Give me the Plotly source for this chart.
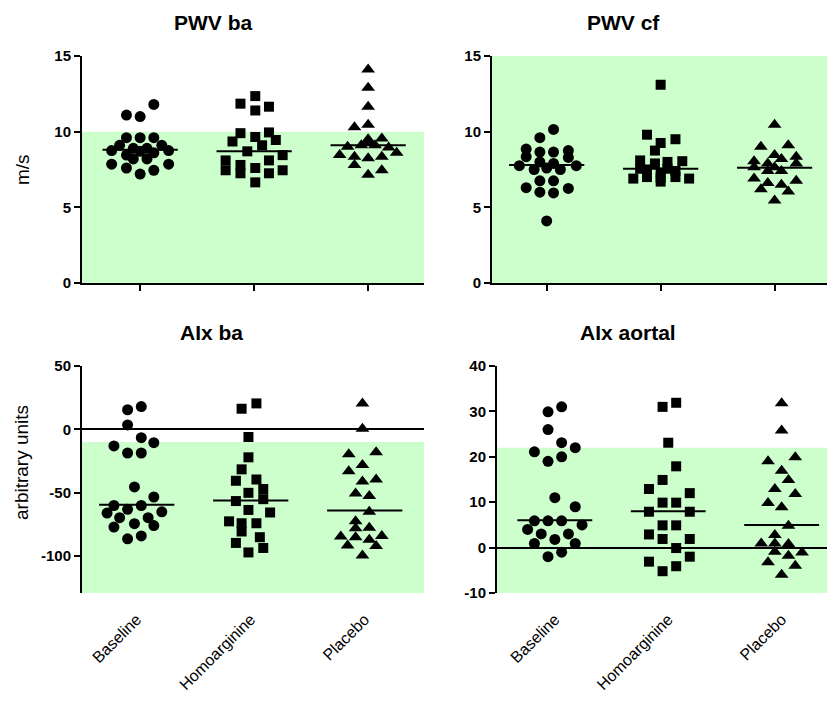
import plotly.graph_objects as go

categories = ["Baseline", "Homoarginine", "Placebo"]

# ---------- PWV ba (m/s) ----------
pwv_ba_baseline = [11.8, 11.1, 11.0, 9.6, 9.6, 9.6, 9.1, 9.1, 8.75, 8.75, 8.9, 8.9, 8.45, 8.6, 8.7, 8.2, 8.2, 7.85, 7.85, 7.6, 7.45, 7.2]
pwv_ba_baseline_dx = [0.12, -0.12, 0.0, -0.12, 0.0, 0.12, -0.18, 0.19, -0.25, 0.25, -0.06, 0.06, -0.12, 0.12, 0.0, -0.06, 0.06, -0.25, 0.25, -0.12, 0.12, 0.0]
pwv_ba_homo = [12.35, 11.85, 11.65, 11.4, 9.9, 9.95, 9.65, 9.35, 9.45, 9.1, 8.7, 8.45, 8.1, 8.1, 7.45, 7.8, 7.25, 7.6, 7.25, 7.45, 6.65]
pwv_ba_homo_dx = [0.01, -0.12, 0.13, 0.01, -0.12, 0.13, 0.01, -0.19, 0.19, 0.07, -0.06, 0.25, 0.13, -0.25, -0.25, -0.12, -0.12, 0.01, 0.13, 0.25, 0.01]
pwv_ba_placebo = [14.1, 12.9, 11.65, 10.45, 10.3, 9.5, 9.55, 9.1, 9.1, 9.0, 8.95, 8.45, 8.6, 8.35, 8.35, 8.25, 7.8, 7.45, 7.15, 9.3]
pwv_ba_placebo_dx = [0.0, 0.0, 0.0, 0.0, -0.12, 0.0, 0.12, -0.06, 0.06, -0.18, 0.18, -0.25, 0.25, -0.12, 0.12, 0.0, -0.12, 0.12, 0.0, 0.0]
pwv_ba_medians = [8.8, 8.7, 9.1]
pwv_ba_normal = [0, 10]

# ---------- PWV cf (m/s) ----------
pwv_cf_baseline = [10.15, 9.6, 8.85, 8.65, 8.65, 8.75, 8.35, 8.3, 7.75, 7.75, 8.0, 7.9, 7.5, 7.5, 7.6, 6.75, 6.75, 6.3, 6.25, 6.0, 5.95, 4.1]
pwv_cf_baseline_dx = [0.06, -0.06, -0.18, -0.06, 0.06, 0.19, -0.18, 0.19, -0.24, 0.26, -0.06, 0.06, -0.11, 0.12, 0.0, -0.06, 0.06, -0.18, 0.19, -0.06, 0.06, 0.0]
pwv_cf_homo = [13.1, 9.8, 9.5, 9.25, 8.75, 8.1, 8.0, 8.05, 7.9, 7.55, 7.55, 7.5, 7.4, 7.0, 7.0, 6.9, 6.9, 6.95, 6.7, 7.3]
pwv_cf_homo_dx = [0.0, -0.12, 0.13, 0.0, -0.05, -0.18, 0.06, 0.19, -0.05, -0.18, 0.06, -0.12, 0.13, -0.12, 0.13, -0.24, 0.25, 0.0, 0.0, 0.0]
pwv_cf_placebo = [10.45, 9.0, 9.1, 8.05, 8.45, 8.2, 8.35, 7.9, 7.65, 7.4, 7.4, 7.9, 7.65, 6.9, 6.75, 6.6, 6.5, 6.2, 6.05, 5.45]
pwv_cf_placebo_dx = [0.0, -0.12, 0.12, -0.18, 0.0, 0.06, 0.19, -0.06, -0.18, -0.06, 0.06, 0.19, 0.0, -0.18, 0.19, -0.06, 0.06, -0.12, 0.12, 0.0]
pwv_cf_medians = [7.8, 7.55, 7.62]
pwv_cf_normal = [0, 15]

# ---------- AIx ba (arbitrary units) ----------
aix_ba_baseline = [18.0, 15.5, 3.5, -6.5, -10.5, -13.0, -18.6, -18.6, -45.4, -53.3, -60.0, -60.0, -63.0, -66.0, -65.0, -69.6, -69.6, -77.0, -74.3, -75.8, -86.3, -84.0]
aix_ba_baseline_dx = [0.04, -0.08, -0.08, 0.04, 0.15, -0.2, -0.08, 0.04, -0.02, 0.15, -0.2, 0.04, -0.08, -0.26, 0.22, -0.15, 0.1, -0.2, -0.02, 0.15, -0.08, 0.04]
aix_ba_homo = [20.5, 16.3, -6.0, -22.0, -31.5, -40.5, -39.5, -47.0, -50.0, -55.0, -56.5, -63.5, -65.5, -72.5, -74.0, -74.0, -80.5, -85.0, -89.5, -93.5, -97.0]
aix_ba_homo_dx = [0.05, -0.08, -0.02, -0.02, -0.08, -0.13, 0.05, 0.11, -0.02, 0.11, -0.13, -0.02, 0.17, -0.19, -0.08, 0.05, -0.08, 0.08, -0.13, 0.11, -0.02]
aix_ba_placebo = [20.5, 0.5, -19.5, -18.0, -28.0, -33.0, -39.5, -41.0, -50.5, -52.5, -65.0, -72.5, -78.0, -77.5, -84.5, -85.0, -87.0, -84.0, -91.5, -92.0, -99.5]
aix_ba_placebo_dx = [-0.02, -0.02, -0.14, 0.1, -0.02, -0.14, 0.1, -0.02, -0.08, 0.04, 0.04, -0.08, -0.08, 0.04, -0.21, -0.08, 0.04, 0.15, -0.15, 0.1, -0.02]
aix_ba_medians = [-59.5, -56.0, -64.0]
aix_ba_normal = [-130, -10]

# ---------- AIx aortal (arbitrary units) ----------
aix_ao_baseline = [31.0, 29.9, 26.0, 23.1, 22.0, 21.1, 20.0, 19.0, 11.0, 9.0, 5.9, 5.9, 5.9, 4.0, 5.0, 3.0, 3.0, 1.8, 0.9, 0.9, -1.0, -2.0]
aix_ao_baseline_dx = [0.06, -0.06, -0.06, 0.06, 0.18, -0.18, 0.06, -0.06, 0.0, 0.18, -0.18, -0.06, 0.06, -0.24, 0.24, -0.12, 0.12, 0.0, -0.18, 0.18, 0.06, -0.06]
aix_ao_homo = [31.9, 31.0, 23.1, 17.9, 14.9, 12.9, 12.0, 9.9, 9.9, 7.9, 7.9, 4.9, 4.9, 2.9, 1.9, 1.9, -0.1, -3.1, -2.0, -4.1, -5.2]
aix_ao_homo_dx = [0.07, -0.05, 0.0, 0.07, -0.05, -0.17, 0.19, -0.05, 0.07, -0.17, 0.19, -0.05, 0.07, -0.17, 0.19, -0.05, 0.07, -0.17, 0.19, 0.07, -0.05]
aix_ao_placebo = [31.8, 25.8, 19.0, 19.9, 16.9, 14.9, 12.9, 11.8, 9.8, 8.9, 4.8, 2.8, 0.9, 0.9, 0.8, -0.9, -1.1, -1.8, -3.2, -4.0, -6.0]
aix_ao_placebo_dx = [0.0, 0.0, -0.12, 0.12, 0.0, 0.06, -0.06, 0.12, -0.12, 0.0, 0.06, -0.06, -0.18, -0.06, 0.06, -0.06, 0.18, 0.06, -0.12, 0.12, 0.0]
aix_ao_medians = [6.0, 8.0, 5.0]
aix_ao_normal = [-10, 22]

panel_titles = ["PWV ba", "PWV cf", "AIx ba", "AIx aortal"]
y_titles = ["m/s", "arbitrary units"]
yticks_top = [0, 5, 10, 15]
yticks_aix_ba = [-100, -50, 0, 50]
yticks_aix_ao = [-10, 0, 10, 20, 30, 40]

# ---------- figure ----------
W, H = 827, 701
FONT = "Liberation Sans, Arial, sans-serif"
GREEN = "#ccffcc"
symbols = ["circle", "square", "triangle-up"]
sizes = [11, 10, 12]
half = 0.33

panels = [
    (1, [(pwv_ba_baseline, pwv_ba_baseline_dx), (pwv_ba_homo, pwv_ba_homo_dx), (pwv_ba_placebo, pwv_ba_placebo_dx)], pwv_ba_medians, pwv_ba_normal),
    (2, [(pwv_cf_baseline, pwv_cf_baseline_dx), (pwv_cf_homo, pwv_cf_homo_dx), (pwv_cf_placebo, pwv_cf_placebo_dx)], pwv_cf_medians, pwv_cf_normal),
    (3, [(aix_ba_baseline, aix_ba_baseline_dx), (aix_ba_homo, aix_ba_homo_dx), (aix_ba_placebo, aix_ba_placebo_dx)], aix_ba_medians, aix_ba_normal),
    (4, [(aix_ao_baseline, aix_ao_baseline_dx), (aix_ao_homo, aix_ao_homo_dx), (aix_ao_placebo, aix_ao_placebo_dx)], aix_ao_medians, aix_ao_normal),
]

fig = go.Figure()
shapes = []
for idx, groups, meds, normal in panels:
    xa = "x" if idx == 1 else f"x{idx}"
    ya = "y" if idx == 1 else f"y{idx}"
    for g, (vals, dx) in enumerate(groups):
        fig.add_trace(go.Scatter(
            x=[g + d for d in dx], y=vals, mode="markers",
            marker=dict(symbol=symbols[g], size=sizes[g], color="black", line=dict(width=0)),
            xaxis=xa, yaxis=ya, showlegend=False, hoverinfo="skip"))
        fig.add_trace(go.Scatter(
            x=[g - half, g + half], y=[meds[g], meds[g]], mode="lines",
            line=dict(color="black", width=2),
            xaxis=xa, yaxis=ya, showlegend=False, hoverinfo="skip"))
    shapes.append(dict(type="rect", xref=f"{xa} domain", yref=ya, x0=0, x1=1,
                       y0=normal[0], y1=normal[1], fillcolor=GREEN, line=dict(width=0),
                       layer="below"))


def px_x(p):
    return p / W


def px_y(p):
    return 1 - p / H


def bold_ticks(vals):
    return [f"<b>{v}</b>" for v in vals]


tickfont = dict(family=FONT, size=15, color="black")
yax_common = dict(showline=True, linecolor="black", linewidth=2, ticks="outside",
                  ticklen=6, tickwidth=2, tickcolor="black", showgrid=False,
                  tickfont=tickfont, fixedrange=True, automargin=False)
xtop_common = dict(showline=True, linecolor="black", linewidth=2, ticks="outside",
                   ticklen=6, tickwidth=2, tickcolor="black", showgrid=False,
                   zeroline=False, tickvals=[0, 1, 2], showticklabels=False, automargin=False)
xbot_common = dict(showline=False, ticks="", showgrid=False, zeroline=False,
                   tickvals=[0, 1, 2], ticktext=categories, tickangle=-45,
                   ticklabelstandoff=13, automargin=False,
                   tickfont=dict(family=FONT, size=16, color="black"))

fig.update_layout(
    width=W, height=H, autosize=False,
    margin=dict(l=0, r=0, t=0, b=0, pad=0, autoexpand=False),
    paper_bgcolor="white", plot_bgcolor="white",
    font=dict(family=FONT, color="black"),
    shapes=shapes,
    xaxis=dict(domain=[px_x(82), px_x(424)], range=[-0.51, 2.49], anchor="y", **xtop_common),
    yaxis=dict(domain=[px_y(283), px_y(56)], range=[0, 15], tickvals=yticks_top,
               ticktext=bold_ticks(yticks_top), anchor="x", zeroline=False, **yax_common),
    xaxis2=dict(domain=[px_x(492), 1.0], range=[-0.48, 2.46], anchor="y2", **xtop_common),
    yaxis2=dict(domain=[px_y(283), px_y(56)], range=[0, 15], tickvals=yticks_top,
                ticktext=bold_ticks(yticks_top), anchor="x2", zeroline=False, **yax_common),
    xaxis3=dict(domain=[px_x(82), px_x(424)], range=[-0.48, 2.52], anchor="y3", **xbot_common),
    yaxis3=dict(domain=[px_y(593), px_y(366)], range=[-129, 50], tickvals=yticks_aix_ba,
                ticktext=bold_ticks(yticks_aix_ba), anchor="x3",
                zeroline=True, zerolinecolor="black", zerolinewidth=2, **yax_common),
    xaxis4=dict(domain=[px_x(497), 1.0], range=[-0.51, 2.40], anchor="y4", **xbot_common),
    yaxis4=dict(domain=[px_y(593), px_y(366)], range=[-10, 40], tickvals=yticks_aix_ao,
                ticktext=bold_ticks(yticks_aix_ao), anchor="x4",
                zeroline=True, zerolinecolor="black", zerolinewidth=2, **yax_common),
)

title_pos = [(213, 23), (623, 23), (211, 332), (628, 332)]
for t, (cx, cy) in zip(panel_titles, title_pos):
    fig.add_annotation(text=f"<b>{t}</b>", x=px_x(cx), y=px_y(cy), xref="paper", yref="paper",
                       showarrow=False, xanchor="center", yanchor="middle",
                       font=dict(family=FONT, size=21, color="black"))

for t, (cx, cy) in zip(y_titles, [(22, 170), (22, 463)]):
    fig.add_annotation(text=t, x=px_x(cx), y=px_y(cy), xref="paper", yref="paper",
                       showarrow=False, xanchor="center", yanchor="middle", textangle=-90,
                       font=dict(family=FONT, size=19, color="black"))

fig.write_html("out.html", config={"displayModeBar": False},
               post_script="document.body.style.margin='0';document.body.style.overflow='hidden';")
